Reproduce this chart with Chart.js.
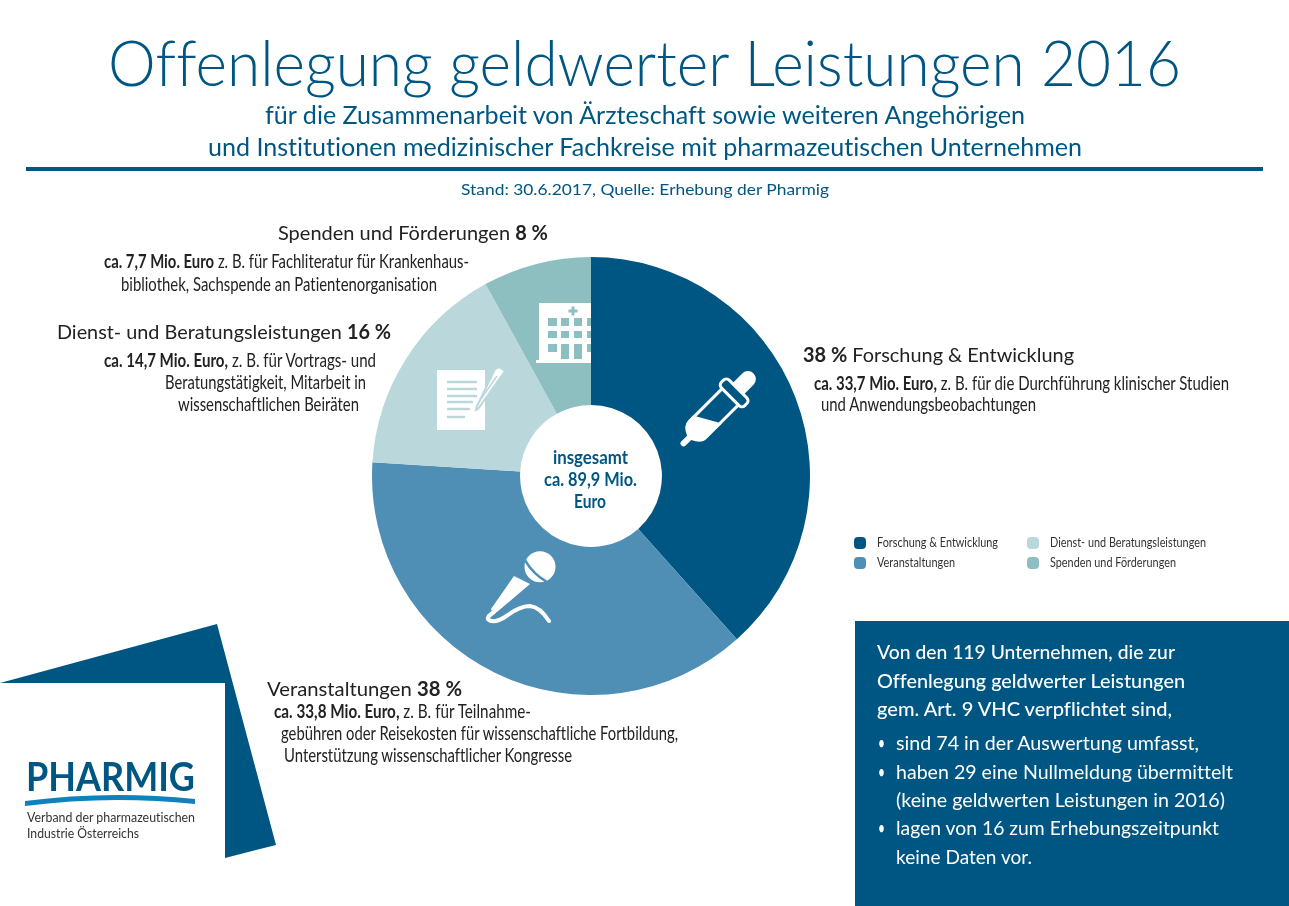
<!DOCTYPE html>
<html lang="de">
<head>
<meta charset="utf-8">
<title>Offenlegung geldwerter Leistungen 2016</title>
<script src="https://cdn.jsdelivr.net/npm/chart.js@4"></script>
<style>
  html, body { margin: 0; padding: 0; background: #fff; }
  #page { position: relative; width: 1289px; height: 906px; overflow: hidden; font-family: Lato, sans-serif; font-variant-ligatures: none; }
  #pie { position: absolute; left: 372px; top: 257px; width: 438px; height: 438px; }
  #art { position: absolute; left: 0; top: 0; }
  .t { position: absolute; white-space: nowrap; transform-origin: 0 50%; line-height: 1; }
  .t b { font-weight: 700; }
  .dot { position: absolute; width: 12px; height: 12px; border-radius: 4px; }
</style>
</head>
<body>
<div id="page">
  <svg id="art" width="1289" height="906">
    <rect x="26" y="167" width="1237" height="4" fill="#005682"/>
    <rect x="855" y="621" width="434" height="285" fill="#005682"/>
    <polygon points="0,683 217,624 276,845 225,858 225,683" fill="#005682"/>
    <path d="M25,801 Q108,790 195,799 L195,804 Q108,795 25,806 Z" fill="#1180bd"/>
  </svg>
  <canvas id="pie" width="438" height="438"></canvas>
  <svg id="icons" width="1289" height="906" style="position:absolute;left:0;top:0">
    <!-- pipette -->
    <g transform="translate(717.500,409.500) rotate(45)">
      <path d="M-8,-25 V-43 A8,8 0 0 1 8,-43 V-25 Z" fill="#fff"/>
      <rect x="-16.500" y="-29" width="33" height="11" rx="4" fill="#005682" stroke="#fff" stroke-width="3"/>
      <path d="M-11.500,-17 V24 M11.500,-17 V10" stroke="#fff" stroke-width="3" fill="none"/>
      <path d="M-13,21.500 L13,6.700 V28 Q13,36 3,40 V48 A3,3 0 0 1 -3,48 V40 Q-13,36 -13,28 Z" fill="#fff"/>
    </g>
    <!-- microphone -->
    <g transform="translate(540,566.700) rotate(45)">
      <circle r="15.500" fill="#fff"/>
      <path d="M-15,6 Q0,10 15,6" fill="none" stroke="#4f8fb5" stroke-width="2.500"/>
    </g>
    <path d="M514,576 L530,584 L497,612 Q492,613 491,609 Z" fill="#fff"/>
    <path d="M494,612 Q485,618 489,620 Q495,624 508,615 Q520,606 530,606 Q540,607 549,621" fill="none" stroke="#fff" stroke-width="4" stroke-linecap="round"/>
    <!-- document -->
    <rect x="437" y="370" width="48" height="60" fill="#fff"/>
    <g stroke="#bad8dc" stroke-width="2.500">
      <line x1="447" y1="382" x2="477" y2="382"/>
      <line x1="447" y1="389" x2="477" y2="389"/>
      <line x1="447" y1="396" x2="477" y2="396"/>
      <line x1="447" y1="402" x2="473" y2="402"/>
      <line x1="447" y1="409" x2="470" y2="409"/>
      <line x1="447" y1="417" x2="465" y2="417"/>
    </g>
    <polygon points="495,369 499,367 505,371 478,409 476,410 477,406" fill="#fff" stroke="#bad8dc" stroke-width="2"/>
    <line x1="497" y1="376" x2="481" y2="399" stroke="#bad8dc" stroke-width="1.500"/>
    <!-- hospital -->
    <rect x="539" y="303" width="52" height="57" fill="#fff"/>
    <rect x="536" y="360" width="55" height="3" fill="#fff"/>
    <g fill="#8dbfc1">
      <rect x="568.500" y="309.500" width="9" height="3"/><rect x="571.500" y="306.500" width="3" height="9"/>
      <rect x="548" y="318" width="9" height="8"/><rect x="561" y="318" width="8" height="8"/><rect x="574" y="318" width="8" height="8"/><rect x="587" y="318" width="4" height="8"/>
      <rect x="548" y="331" width="9" height="7"/><rect x="561" y="331" width="8" height="7"/><rect x="574" y="331" width="8" height="7"/><rect x="587" y="331" width="4" height="7"/>
      <rect x="548" y="344" width="9" height="8"/><rect x="561" y="344" width="8" height="15"/><rect x="574" y="344" width="8" height="15"/><rect x="587" y="344" width="4" height="8"/>
    </g>
  </svg>
</div>
<script>
// Werte aus der Grafik
const categories = ['Forschung & Entwicklung', 'Veranstaltungen', 'Dienst- und Beratungsleistungen', 'Spenden und Förderungen'];
const shares = [38.4, 37.6, 16, 8];
const sliceColors = ['#005682', '#4f8fb5', '#bad8dc', '#8dbfc1'];

const page = document.getElementById('page');
const blue = '#005682';
const ink = '#222222';

// eine Textzeile: links x, Mitte y, Breite wird auf w gestreckt/gestaucht
function line(html, x, y, w, size, color, weight) {
    const el = document.createElement('div');
    el.className = 't';
    el.innerHTML = html;
    el.style.left = x + 'px';
    el.style.top = (y - 1 - size / 2) + 'px';
    el.style.fontSize = size + 'px';
    el.style.color = color;
    el.style.fontWeight = weight || 400;
    page.appendChild(el);
    el.style.transform = 'scaleX(' + (w / el.getBoundingClientRect().width) + ')';
}

// Kopf
line('Offenlegung geldwerter Leistungen 2016', 108, 63, 1073, 64, blue, 300);
line('für die Zusammenarbeit von Ärzteschaft sowie weiteren Angehörigen', 265, 115, 760, 25, blue);
line('und Institutionen medizinischer Fachkreise mit pharmazeutischen Unternehmen', 208, 147, 874, 25, blue);
line('Stand: 30.6.2017, Quelle: Erhebung der Pharmig', 461, 190, 368, 16, blue);

// Beschriftungen
line('Spenden und Förderungen <b>8 %</b>', 278, 233, 270, 20, ink);
line('<b>ca. 7,7 Mio. Euro</b> z. B. für Fachliteratur für Krankenhaus-', 104, 261, 365, 19, ink);
line('bibliothek, Sachspende an Patientenorganisation', 121, 284, 316, 19, ink);
line('Dienst- und Beratungsleistungen <b>16 %</b>', 57, 332, 334, 20, ink);
line('<b>ca. 14,7 Mio. Euro,</b> z. B. für Vortrags- und', 104, 360, 272, 19, ink);
line('Beratungstätigkeit, Mitarbeit in', 165, 382, 201, 19, ink);
line('wissenschaftlichen Beiräten', 178, 404, 181, 19, ink);
line('<b>38 %</b> Forschung &amp; Entwicklung', 803, 355, 271, 20, ink);
line('<b>ca. 33,7 Mio. Euro,</b> z. B. für die Durchführung klinischer Studien', 814, 383, 415, 19, ink);
line('und Anwendungsbeobachtungen', 821, 404, 215, 19, ink);
line('Veranstaltungen <b>38 %</b>', 267, 689, 195, 20, ink);
line('<b>ca. 33,8 Mio. Euro,</b> z. B. für Teilnahme-', 274, 711, 257, 19, ink);
line('gebühren oder Reisekosten für wissenschaftliche Fortbildung,', 281, 733, 397, 19, ink);
line('Unterstützung wissenschaftlicher Kongresse', 284, 755, 288, 19, ink);

// Mitte
line('insgesamt', 553, 457, 75, 19, blue, 700);
line('ca. 89,9 Mio.', 544, 479, 93, 19, blue, 700);
line('Euro', 574, 501, 32, 19, blue, 700);

// Kasten rechts unten
line('Von den 119 Unternehmen, die zur', 877, 652, 298, 20, '#fff', 500);
line('Offenlegung geldwerter Leistungen', 877, 681, 308, 20, '#fff', 500);
line('gem. Art. 9 VHC verpflichtet sind,', 877, 709, 295, 20, '#fff', 500);
line('sind 74 in der Auswertung umfasst,', 896, 743, 303, 20, '#fff');
line('haben 29 eine Nullmeldung übermittelt', 896, 772, 337, 20, '#fff');
line('(keine geldwerten Leistungen in 2016)', 896, 800, 329, 20, '#fff');
line('lagen von 16 zum Erhebungszeitpunkt', 896, 828, 323, 20, '#fff');
line('keine Daten vor.', 896, 857, 136, 20, '#fff');
[743, 772, 828].forEach(y => line('•', 878, y, 7, 20, '#fff'));

// Logo
line('PHARMIG', 26, 777, 169, 40, blue, 700);
line('Verband der pharmazeutischen', 27, 818, 168, 13, '#333');
line('Industrie Österreichs', 27, 834, 112, 13, '#333');

const chart = new Chart(document.getElementById('pie'), {
    type: 'doughnut',
    data: {
        labels: categories,
        datasets: [{ data: shares, backgroundColor: sliceColors, borderWidth: 0, hoverOffset: 0 }]
    },
    options: {
        responsive: false,
        animation: false,
        cutout: '32.4%',
        layout: { padding: 0 },
        plugins: { legend: { display: false }, tooltip: { enabled: false } }
    }
});

// Legende aus den Kategorien
const legendSpots = [[860, 542, 121], [860, 562, 78], [1033, 542, 156], [1033, 562, 126]];
categories.forEach((name, i) => {
    const [x, y, w] = legendSpots[i];
    const dot = document.createElement('div');
    dot.className = 'dot';
    dot.style.left = (x - 6) + 'px';
    dot.style.top = (y - 5) + 'px';
    dot.style.background = sliceColors[i];
    page.appendChild(dot);
    line(name.replace('&', '&amp;'), x + 17, y + 1, w, 13, '#333');
});
</script>
</body>
</html>
